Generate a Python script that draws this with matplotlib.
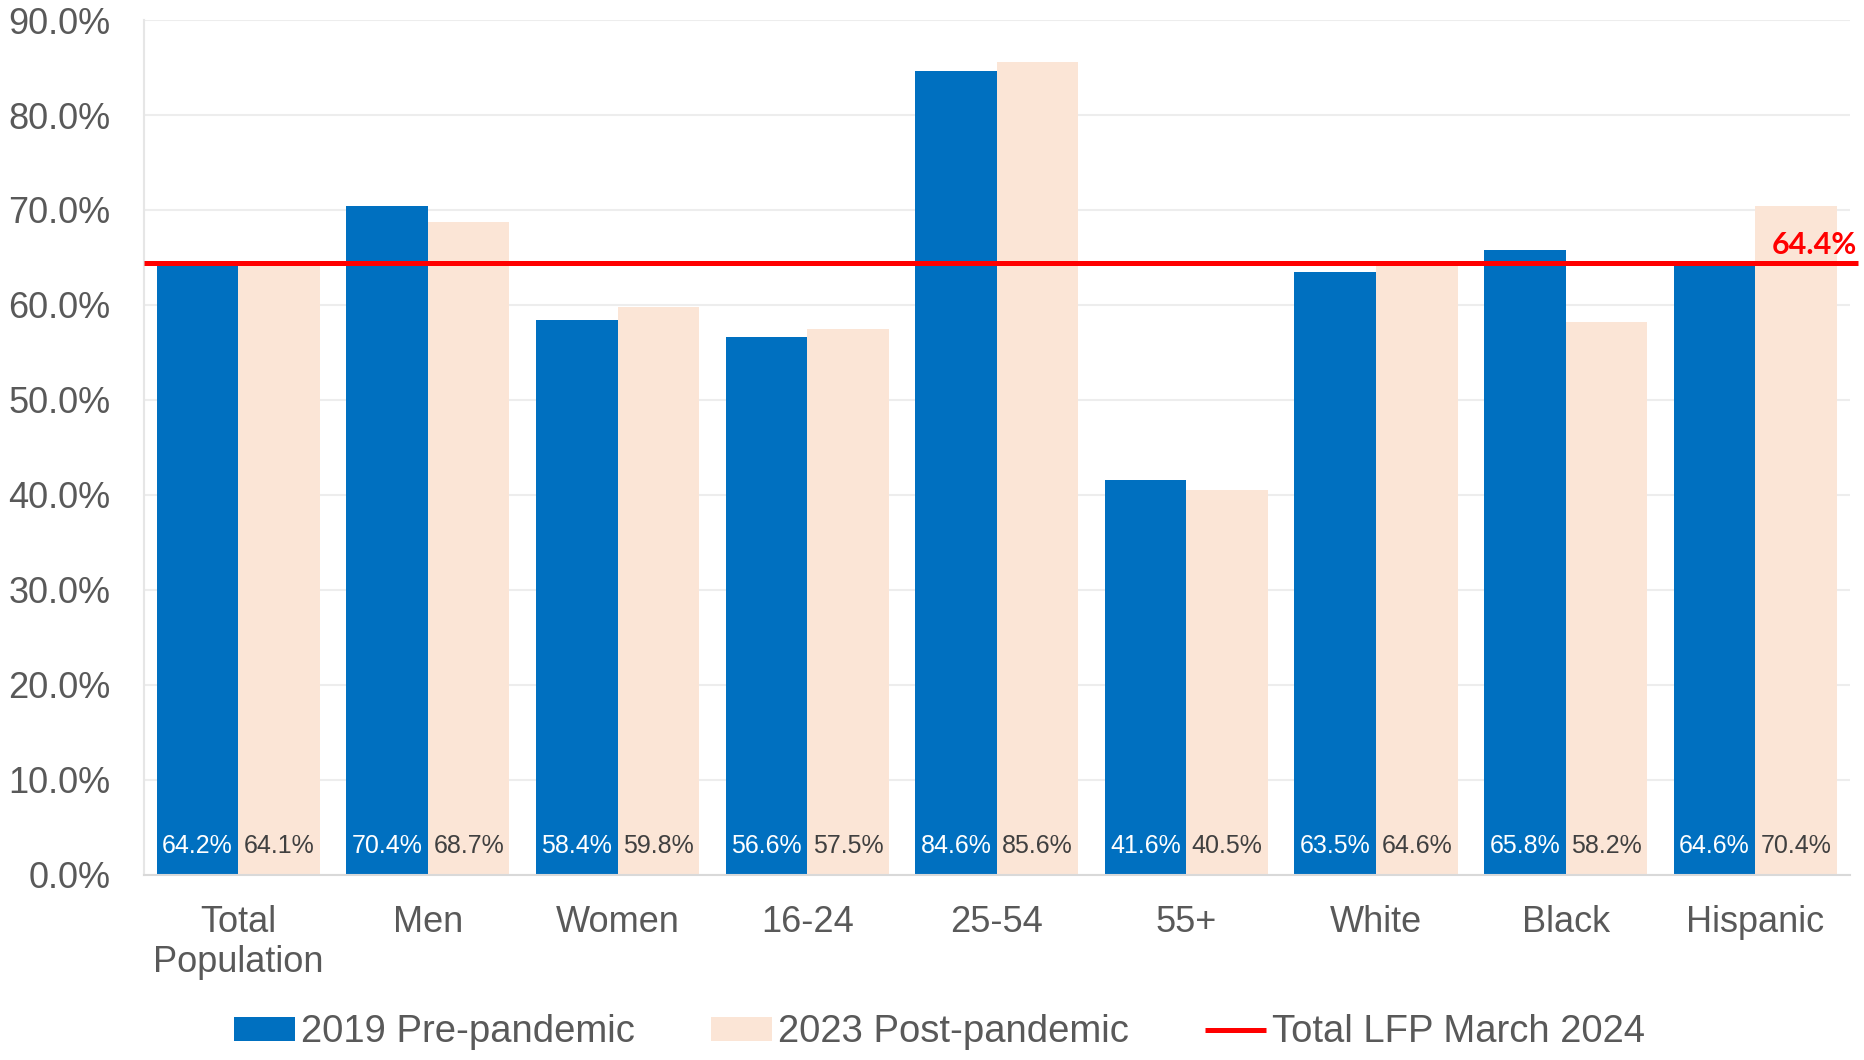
import numpy as np
import matplotlib
matplotlib.use('Agg')
from matplotlib import pyplot as plt

categories = ['Total\nPopulation', 'Men', 'Women', '16-24', '25-54', '55+', 'White', 'Black', 'Hispanic']
pre_2019 = [64.2, 70.4, 58.4, 56.6, 84.6, 41.6, 63.5, 65.8, 64.6]
post_2023 = [64.1, 68.7, 59.8, 57.5, 85.6, 40.5, 64.6, 58.2, 70.4]
lfp_march_2024 = 64.4
yticks = np.arange(0, 91, 10)

plt.rcParams['font.family'] = ['Liberation Sans', 'DejaVu Sans']
gray = '#595959'
blue = '#0070C0'
peach = '#FBE5D6'

fig = plt.figure(figsize=(18.64, 10.6), dpi=100)
ax = fig.add_axes([0.077, 0.175, 0.9155, 0.806])

x = np.arange(len(categories))
w = 0.43
b1 = ax.bar(x - w/2, pre_2019, w, color=blue, label='2019 Pre-pandemic', zorder=2)
b2 = ax.bar(x + w/2, post_2023, w, color=peach, label='2023 Post-pandemic', zorder=2)

for xi, v in zip(x, pre_2019):
    ax.text(xi - w/2, 3.0, f'{v:.1f}%', ha='center', va='center', color='white', fontsize=18, zorder=4)
for xi, v in zip(x, post_2023):
    ax.text(xi + w/2, 3.0, f'{v:.1f}%', ha='center', va='center', color='#404040', fontsize=18, zorder=4)

line, = ax.plot([-0.5, 8.54], [lfp_march_2024] * 2, color='#FF0000', lw=3.6,
                label='Total LFP March 2024', zorder=3, clip_on=False, solid_capstyle='butt')
ax.text(8.535, lfp_march_2024 + 0.45, f'{lfp_march_2024:.1f}%', ha='right', va='bottom',
        color='#FF0000', fontsize=22, fontweight='bold', family=['Lato', 'DejaVu Sans'], zorder=5)

ax.set_xlim(-0.5, 8.5)
ax.set_ylim(0, 90)
ax.set_yticks(yticks)
ax.set_yticklabels([f'{t:.1f}%' for t in yticks])
ax.set_xticks(x)
ax.set_xticklabels(categories, linespacing=1.2)
ax.tick_params(axis='y', length=0, pad=24, labelsize=26, labelcolor=gray)
ax.tick_params(axis='x', length=0, pad=22, labelsize=26, labelcolor=gray)

ax.grid(axis='y', color='#EDEDED', lw=1.5, zorder=0)
ax.set_axisbelow(True)
for s in ['top', 'right']:
    ax.spines[s].set_visible(False)
ax.spines['left'].set_color('#E6E6E6')
ax.spines['left'].set_linewidth(1.5)
ax.spines['bottom'].set_color('#D9D9D9')
ax.spines['bottom'].set_linewidth(1.5)

fig.legend(handles=[b1, b2, line], loc='center', bbox_to_anchor=(0.504, 0.026), ncol=3,
           frameon=False, fontsize=27.5, labelcolor=gray, handlelength=1.6, handleheight=0.6,
           handletextpad=0.15, columnspacing=2.0)

plt.savefig('out.png', dpi=100)
